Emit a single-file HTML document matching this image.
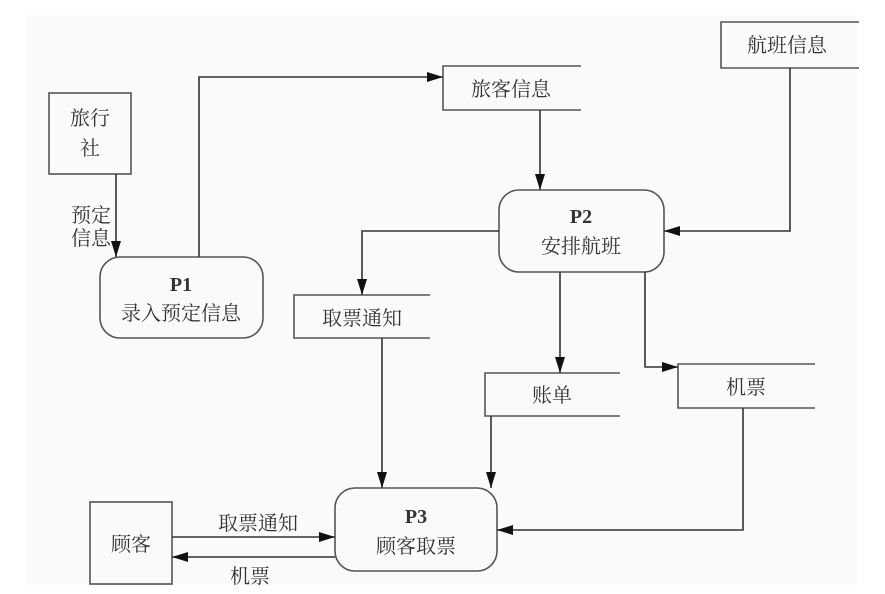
<!DOCTYPE html>
<html><head><meta charset="utf-8"><style>
html,body{margin:0;padding:0;background:#fff;}
svg{display:block;}
text{font-family:"Liberation Serif","Noto Serif CJK SC","Noto Sans CJK SC",serif;font-size:20px;fill:#333;text-anchor:middle;}
</style></head><body>
<svg width="885" height="594" viewBox="0 0 885 594" xmlns="http://www.w3.org/2000/svg">
<defs>
<marker id="b" markerWidth="16" markerHeight="10" refX="16" refY="5" orient="auto" markerUnits="userSpaceOnUse"><path d="M0,0 L16,5 L0,10 z" fill="#111"/></marker></defs>
<rect x="27" y="15" width="830" height="570" fill="#fafafa"/>
<g fill="none" stroke="#555" stroke-width="1.6">
<rect x="49" y="93" width="82" height="81"/>
<rect x="90" y="502" width="82" height="82"/>
<rect x="100" y="257" width="163" height="81" rx="20"/>
<rect x="499" y="190" width="165" height="82" rx="20"/>
<rect x="335" y="488" width="162" height="83" rx="20"/>
<path d="M581,66 H443 V110 H581"/>
<path d="M859,22 H721 V68 H859"/>
<path d="M430,295 H294 V338 H430"/>
<path d="M620,373 H485 V416 H620"/>
<path d="M815,364 H678 V408 H815"/>
</g>
<g fill="none" stroke="#333" stroke-width="1.6">
<path d="M116,174 V257" marker-end="url(#b)"/>
<path d="M199,257 V77 H443" marker-end="url(#b)"/>
<path d="M540,110 V190" marker-end="url(#b)"/>
<path d="M790,68 V231 H664" marker-end="url(#b)"/>
<path d="M499,231 H362 V295" marker-end="url(#b)"/>
<path d="M560,272 V373" marker-end="url(#b)"/>
<path d="M645,272 V367 H678" marker-end="url(#b)"/>
<path d="M382,338 V488" marker-end="url(#b)"/>
<path d="M491,416 V488" marker-end="url(#b)"/>
<path d="M743,408 V530 H497" marker-end="url(#b)"/>
<path d="M172,537 H335" marker-end="url(#b)"/>
<path d="M335,557 H172" marker-end="url(#b)"/>
</g>
<text x="90" y="125">旅行</text>
<text x="90" y="155">社</text>
<text x="91" y="222">预定</text>
<text x="91" y="245">信息</text>
<text x="181" y="291" font-weight="bold">P1</text>
<text x="181" y="320">录入预定信息</text>
<text x="511" y="96">旅客信息</text>
<text x="787" y="52">航班信息</text>
<text x="581" y="223" font-weight="bold">P2</text>
<text x="581" y="253">安排航班</text>
<text x="362" y="325">取票通知</text>
<text x="552" y="402">账单</text>
<text x="746" y="394">机票</text>
<text x="416" y="523" font-weight="bold">P3</text>
<text x="416" y="553">顾客取票</text>
<text x="131" y="551">顾客</text>
<text x="258" y="530">取票通知</text>
<text x="250" y="583">机票</text>
</svg>
</body></html>
